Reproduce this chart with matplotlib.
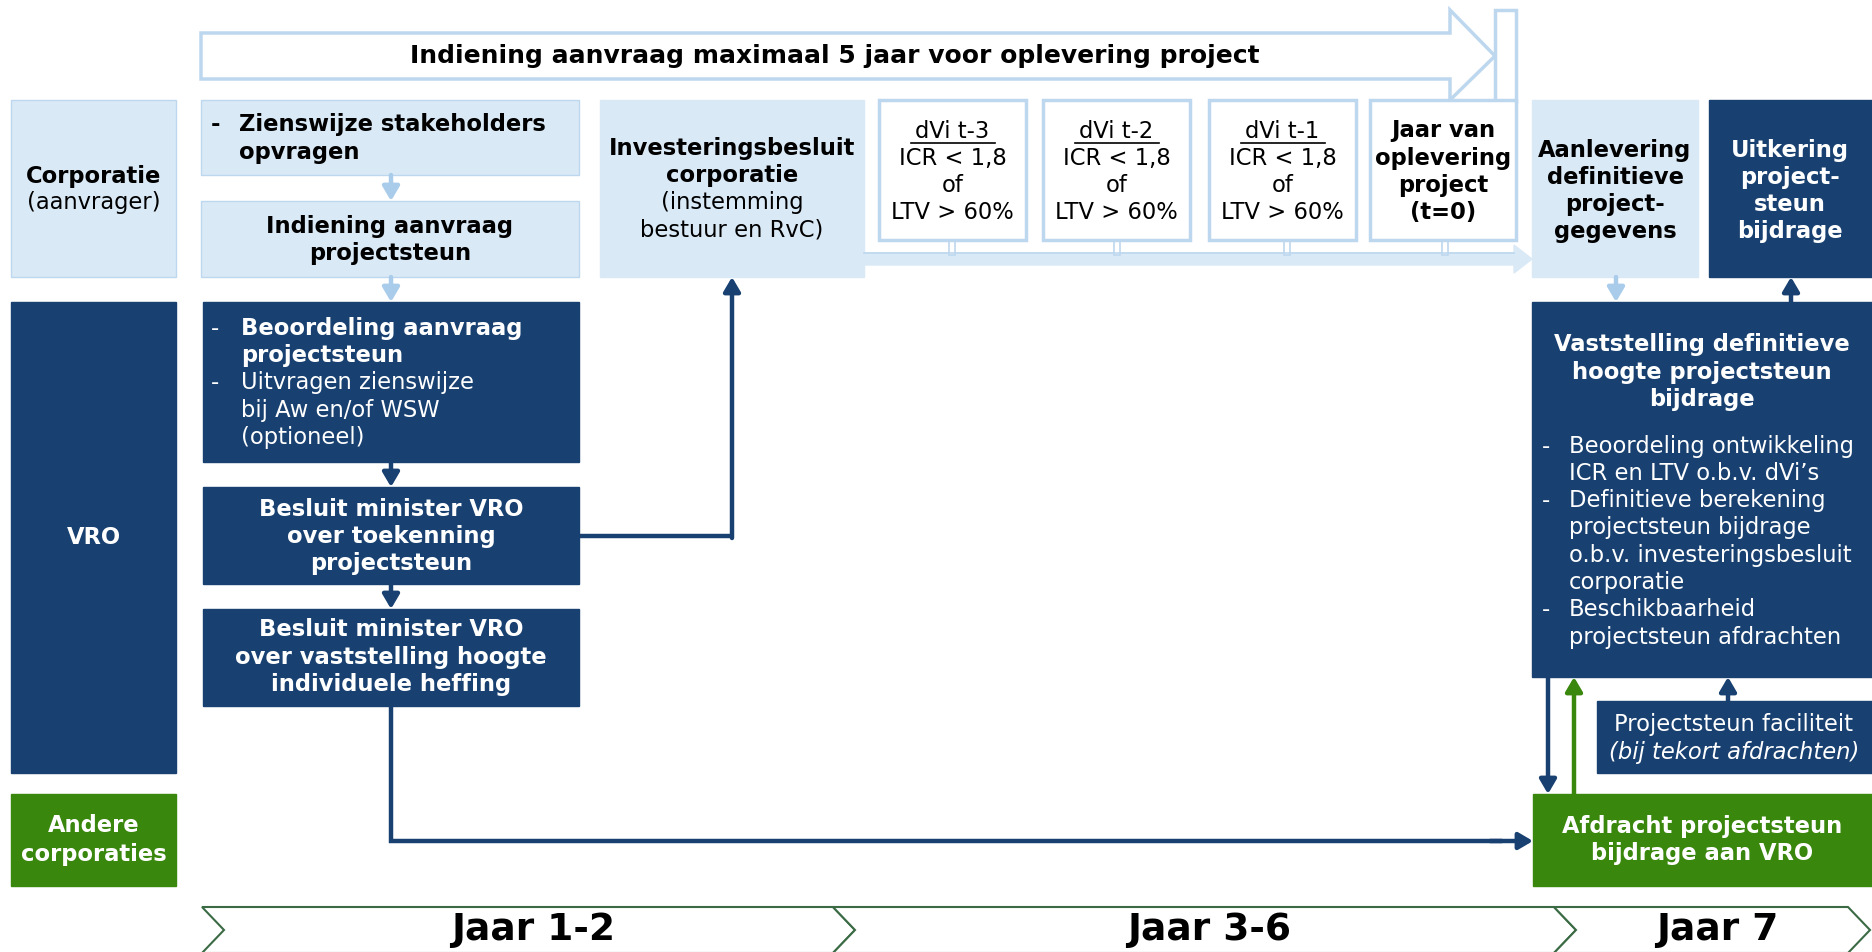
import matplotlib
matplotlib.use("Agg")
import matplotlib.pyplot as plt
from matplotlib.patches import Rectangle, Polygon

LIGHT = '#DAE9F6'
EDGE = '#BDD7EE'
ARROW_LIGHT = '#A9CCEA'
NAVY = '#184070'
GREEN = '#3A870E'
CHEV = '#3B6B45'

# ---- texts of the diagram ----
top_banner = "Indiening aanvraag maximaal 5 jaar voor oplevering project"
lanes = [("Corporatie", "(aanvrager)"), ("VRO", None), ("Andere\ncorporaties", None)]
phases = ["Jaar 1-2", "Jaar 3-6", "Jaar 7"]
dvi_years = ["dVi t-3", "dVi t-2", "dVi t-1"]
dvi_rule = ["ICR < 1,8", "of", "LTV > 60%"]
oplevering = ["Jaar van", "oplevering", "project", "(t=0)"]
aanlevering = ["Aanlevering", "definitieve", "project-", "gegevens"]
uitkering = ["Uitkering", "project-", "steun", "bijdrage"]
zienswijze = ["Zienswijze stakeholders", "opvragen"]
indiening = ["Indiening aanvraag", "projectsteun"]
invest_bold = ["Investeringsbesluit", "corporatie"]
invest_norm = ["(instemming", "bestuur en RvC)"]
beoordeling_bold = ["Beoordeling aanvraag", "projectsteun"]
beoordeling_norm = ["Uitvragen zienswijze", "bij Aw en/of WSW", "(optioneel)"]
besluit_toekenning = ["Besluit minister VRO", "over toekenning", "projectsteun"]
besluit_heffing = ["Besluit minister VRO", "over vaststelling hoogte", "individuele heffing"]
vaststelling_title = ["Vaststelling definitieve", "hoogte projectsteun", "bijdrage"]
vaststelling_items = [["Beoordeling ontwikkeling", "ICR en LTV o.b.v. dVi\u2019s"],
                      ["Definitieve berekening", "projectsteun bijdrage",
                       "o.b.v. investeringsbesluit", "corporatie"],
                      ["Beschikbaarheid", "projectsteun afdrachten"]]
faciliteit = ["Projectsteun faciliteit", "(bij tekort afdrachten)"]
afdracht = ["Afdracht projectsteun", "bijdrage aan VRO"]

FS = 16.3
LH = 27.3

fig = plt.figure(figsize=(18.72, 9.52), dpi=100)
ax = fig.add_axes([0, 0, 1, 1])
ax.set_xlim(0, 1872)
ax.set_ylim(952, 0)
ax.axis('off')


def box(x0, y0, x1, y1, fc, ec=None, lw=1.0):
    ax.add_patch(Rectangle((x0, y0), x1 - x0, y1 - y0, facecolor=fc,
                           edgecolor=ec if ec else fc, lw=lw, zorder=2))


def lines(x, y, txt, color='black', weight='normal', ha='center', style='normal', size=FS):
    for i, t in enumerate(txt):
        ax.text(x, y + i * LH, t, ha=ha, va='center', color=color, fontsize=size,
                fontweight=weight, fontstyle=style, zorder=5)


def arrow(x0, y0, x1, y1, color, lw=3.2):
    ax.annotate('', xy=(x1, y1), xytext=(x0, y0), zorder=4,
                arrowprops=dict(arrowstyle='-|>,head_length=0.85,head_width=0.5',
                                color=color, lw=lw, shrinkA=0, shrinkB=0))


# ---- top banner arrow ----
ax.add_patch(Polygon([(201, 33), (1450, 33), (1450, 10), (1495, 56), (1450, 100),
                      (1450, 79), (201, 79)], closed=True, facecolor='white',
                     edgecolor=EDGE, lw=2.5, zorder=2))
ax.add_patch(Rectangle((1495, 10), 21, 92, facecolor='white', edgecolor=EDGE, lw=2.5, zorder=2))
ax.text(835, 56, top_banner, ha='center', va='center', fontsize=18, fontweight='bold', zorder=5)

# ---- lanes ----
box(11, 100, 176, 277, LIGHT, EDGE)
ax.text(94, 176, lanes[0][0], ha='center', va='center', fontsize=FS, fontweight='bold', zorder=5)
ax.text(94, 203, lanes[0][1], ha='center', va='center', fontsize=FS, zorder=5)
box(11, 302, 176, 773, NAVY)
ax.text(94, 537, lanes[1][0], ha='center', va='center', fontsize=FS, fontweight='bold',
        color='white', zorder=5)
box(11, 794, 176, 886, GREEN)
ax.text(94, 840, lanes[2][0], ha='center', va='center', fontsize=FS, fontweight='bold',
        color='white', zorder=5, linespacing=1.35)

# ---- corporatie row ----
box(201, 100, 579, 175, LIGHT, EDGE)
ax.text(211, 125, "-", ha='left', va='center', fontsize=FS, fontweight='bold', zorder=5)
lines(239, 125, zienswijze, weight='bold', ha='left')
box(201, 201, 579, 277, LIGHT, EDGE)
lines(390, 226, indiening, weight='bold')
box(600, 100, 864, 277, LIGHT)
lines(732, 148, invest_bold, weight='bold')
lines(732, 203, invest_norm)

# light band from investeringsbesluit to aanlevering
dvi_x = [879, 1043, 1209]
ax.add_patch(Polygon([(864, 253), (1514, 253), (1514, 245), (1532, 259), (1514, 273),
                      (1514, 265), (864, 265)], closed=True, facecolor=LIGHT,
                     edgecolor=LIGHT, lw=1, zorder=2))
for cx in [952, 1117, 1287, 1445]:
    ax.add_patch(Rectangle((cx - 3, 240), 6, 15, facecolor='white', edgecolor=EDGE, lw=1.2, zorder=2))
ax.plot([864, 1514], [253, 253], color=EDGE, lw=1.2, zorder=3)

for i, x0 in enumerate(dvi_x):
    box(x0, 100, x0 + 147, 240, 'white', EDGE, lw=2.5)
    cx = x0 + 73.5
    ax.text(cx, 131, dvi_years[i], ha='center', va='center', fontsize=FS, zorder=5)
    ax.plot([cx - 42, cx + 42], [143, 143], color='black', lw=1.2, zorder=5)
    lines(cx, 158, dvi_rule)
box(1370, 100, 1516, 240, 'white', EDGE, lw=2.5)
lines(1443, 131, oplevering, weight='bold')

box(1532, 100, 1698, 277, LIGHT)
lines(1615, 150, aanlevering, weight='bold')
box(1709, 100, 1872, 277, NAVY)
lines(1790, 150, uitkering, weight='bold', color='white')

# ---- VRO column ----
box(203, 302, 579, 462, NAVY)
ax.text(211, 328, "-", ha='left', va='center', fontsize=FS, color='white', zorder=5)
lines(241, 328, beoordeling_bold, color='white', weight='bold', ha='left')
ax.text(211, 383, "-", ha='left', va='center', fontsize=FS, color='white', zorder=5)
lines(241, 383, beoordeling_norm, color='white', ha='left')
box(203, 487, 579, 584, NAVY)
lines(391, 509, besluit_toekenning, color='white', weight='bold')
box(203, 609, 579, 706, NAVY)
lines(391, 630, besluit_heffing, color='white', weight='bold')

# ---- right column ----
box(1532, 302, 1872, 677, NAVY)
lines(1702, 345, vaststelling_title, color='white', weight='bold')
yy = 446
for item in vaststelling_items:
    ax.text(1542, yy, "-", ha='left', va='center', fontsize=FS, color='white', zorder=5)
    lines(1569, yy, item, color='white', ha='left')
    yy += LH * len(item)
box(1597, 701, 1872, 773, NAVY)
ax.text(1734, 725, faciliteit[0], ha='center', va='center', fontsize=FS, color='white', zorder=5)
ax.text(1734, 752, faciliteit[1], ha='center', va='center', fontsize=FS, color='white',
        fontstyle='italic', zorder=5)
box(1533, 794, 1872, 886, GREEN)
lines(1702, 826, afdracht, color='white', weight='bold')

# ---- connectors ----
arrow(391, 175, 391, 201, ARROW_LIGHT)
arrow(391, 277, 391, 302, ARROW_LIGHT)
arrow(1616, 277, 1616, 302, ARROW_LIGHT)
arrow(391, 462, 391, 487, NAVY)
arrow(391, 584, 391, 609, NAVY)
ax.plot([579, 732], [536, 536], color=NAVY, lw=3.2, zorder=4, solid_capstyle='butt')
arrow(732, 538, 732, 277, NAVY)
ax.plot([391, 391, 1500], [706, 841, 841], color=NAVY, lw=3.2, zorder=4, solid_joinstyle='miter')
arrow(1490, 841, 1533, 841, NAVY)
arrow(1791, 302, 1791, 277, NAVY)
arrow(1728, 701, 1728, 677, NAVY)
arrow(1548, 677, 1548, 794, NAVY)
arrow(1574, 794, 1574, 677, GREEN)

# ---- phase chevrons ----
bounds = [202, 833, 1554, 1848]
for i, name in enumerate(phases):
    a, b = bounds[i], bounds[i + 1]
    ax.add_patch(Polygon([(a, 907), (b, 907), (b + 22, 930), (b, 953), (a, 953), (a + 22, 930)],
                         closed=True, facecolor='white', edgecolor=CHEV, lw=1.5, zorder=2))
    ax.text((a + b) / 2 + 16, 930, name, ha='center', va='center', fontsize=27,
            fontweight='bold', zorder=5)

fig.savefig("out.png", dpi=100)
